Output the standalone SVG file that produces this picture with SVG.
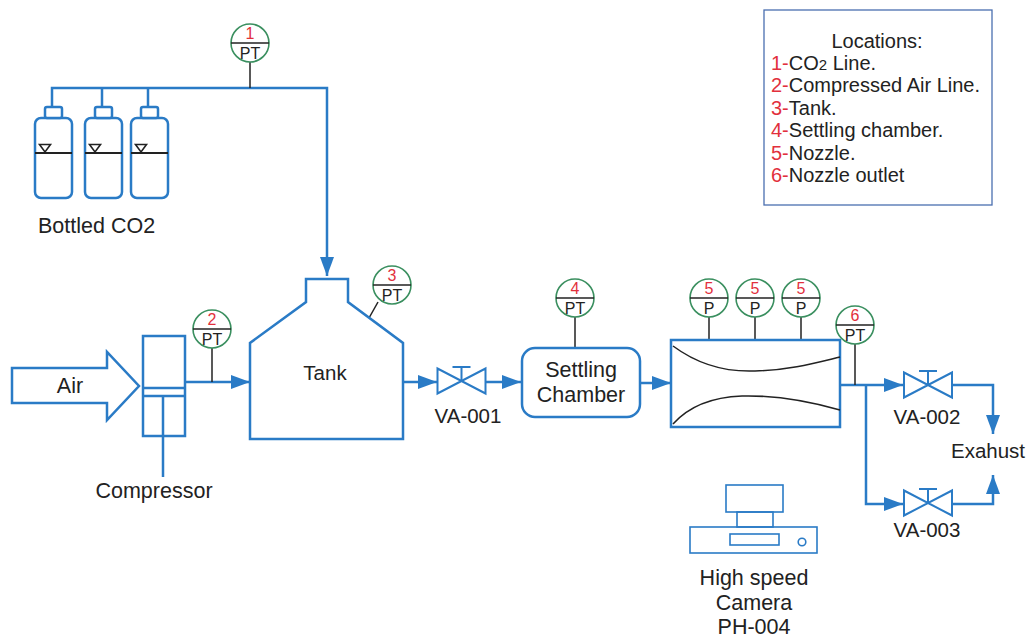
<svg xmlns="http://www.w3.org/2000/svg" width="1029" height="637" viewBox="0 0 1029 637">
  <style>
    text { font-family: "Liberation Sans", Arial, sans-serif; fill: #222; }
    .lbl { font-size: 21.5px; }
    .lbl-s { font-size: 20.5px; }
    .pipe { fill: none; stroke: #2a7bc6; stroke-width: 2.5; }
    .equip { fill: #fff; stroke: #2a7bc6; stroke-width: 2.5; }
    .thin { fill: none; stroke: #2a7bc6; stroke-width: 1.6; }
    .sig { fill: none; stroke: #222; stroke-width: 1.5; }
    .inst circle { fill: #fff; stroke: #3a8f5f; stroke-width: 1.6; }
    .inst line { stroke: #222; stroke-width: 1.5; }
    .inst .num { font-size: 16px; fill: #e2303c; text-anchor: middle; }
    .inst .tag { font-size: 16px; text-anchor: middle; }
    .red { fill: #e2303c; }
    .flow { marker-end: url(#arrow); }
    .legend-text { font-size: 20px; }
  </style>
  <defs>
    <marker id="arrow" markerUnits="userSpaceOnUse" markerWidth="19" markerHeight="14" refX="19" refY="7" orient="auto">
      <path d="M0,0 L19,7 L0,14 Z" fill="#2a7bc6"/>
    </marker>
    <g id="valve">
      <path d="M-24,-12.5 L24,12.5 L24,-12.5 L-24,12.5 Z" fill="#fff" stroke="#2a7bc6" stroke-width="2" stroke-linejoin="miter"/>
      <path d="M0,0 L0,-14 M-9,-14 L9,-14" fill="none" stroke="#2a7bc6" stroke-width="2"/>
    </g>
    <g id="bottle">
      <rect x="0" y="11" width="37" height="80" rx="6" fill="#fff" stroke="#2a7bc6" stroke-width="2.5"/>
      <rect x="10" y="0" width="17" height="11" rx="2" fill="#fff" stroke="#2a7bc6" stroke-width="2.5"/>
      <line x1="0" y1="46" x2="37" y2="46" stroke="#222" stroke-width="1.8"/>
      <path d="M4.5,37.5 L15.5,37.5 L10,45 Z" fill="none" stroke="#222" stroke-width="1.6"/>
    </g>
  </defs>

  <!-- piping and signal lines -->
  <g id="connectors">
    <!-- CO2 header from bottles to tank -->
    <path class="pipe flow" d="M52,107 L52,88 L327,88 L327,276"/>
    <path class="pipe" d="M102,107 L102,88"/>
    <path class="pipe" d="M148,107 L148,88"/>
    <!-- compressor to tank -->
    <path class="pipe flow" d="M185,382 L250,382"/>
    <!-- tank to VA-001 -->
    <path class="pipe flow" d="M403,382 L437,382"/>
    <!-- VA-001 to settling chamber -->
    <path class="pipe flow" d="M486,382 L521,382"/>
    <!-- settling chamber to nozzle -->
    <path class="pipe flow" d="M640,383 L671,383"/>
    <!-- nozzle outlet to VA-002 -->
    <path class="pipe flow" d="M840,385 L903,385"/>
    <!-- branch to VA-003 -->
    <path class="pipe flow" d="M866,385 L866,504 L903,504"/>
    <!-- valves to exhaust -->
    <path class="pipe flow" d="M952,385 L993,385 L993,434"/>
    <path class="pipe flow" d="M952,504 L993,504 L993,475"/>
    <!-- instrument taps -->
    <line class="sig" x1="250" y1="62" x2="250" y2="88"/>
    <line class="sig" x1="212" y1="348" x2="212" y2="382"/>
    <line class="sig" x1="378" y1="302" x2="369" y2="318"/>
    <line class="sig" x1="575" y1="317" x2="575" y2="348"/>
    <line class="sig" x1="709" y1="317" x2="709" y2="367"/>
    <line class="sig" x1="755" y1="317" x2="755" y2="371"/>
    <line class="sig" x1="801" y1="317" x2="801" y2="366"/>
    <line class="sig" x1="855" y1="344" x2="855" y2="385"/>
  </g>

  <!-- CO2 bottles -->
  <g id="bottled-co2">
    <use href="#bottle" x="35" y="107"/>
    <use href="#bottle" x="85" y="107"/>
    <use href="#bottle" x="131" y="107"/>
    <text class="lbl" x="38" y="233">Bottled CO2</text>
  </g>

  <!-- air inlet -->
  <g id="air">
    <polygon class="equip" points="12,368 107,368 107,352 139,386 107,420 107,403 12,403"/>
    <text class="lbl" x="70" y="393" text-anchor="middle">Air</text>
  </g>

  <!-- compressor -->
  <g id="compressor">
    <rect class="equip" x="143" y="336" width="42" height="100"/>
    <path class="pipe" d="M143,388 L185,388 M143,396 L185,396 M163,396 L163,477"/>
    <text class="lbl" x="154" y="498" text-anchor="middle">Compressor</text>
  </g>

  <!-- tank -->
  <g id="tank">
    <path class="equip" d="M306,302 L306,279 L348,279 L348,302 L403,343 L403,439 L250,439 L250,343 Z"/>
    <text class="lbl-s" x="325" y="380" text-anchor="middle">Tank</text>
  </g>

  <!-- valves -->
  <g id="va-001">
    <use href="#valve" x="461.5" y="381"/>
    <text class="lbl-s" x="468" y="423" text-anchor="middle">VA-001</text>
  </g>
  <g id="va-002">
    <use href="#valve" x="928" y="385"/>
    <text class="lbl-s" x="927" y="424" text-anchor="middle">VA-002</text>
  </g>
  <g id="va-003">
    <use href="#valve" x="928" y="503"/>
    <text class="lbl-s" x="927" y="537" text-anchor="middle">VA-003</text>
  </g>

  <!-- settling chamber -->
  <g id="settling-chamber">
    <rect class="equip" x="522" y="348" width="118" height="69" rx="13"/>
    <text class="lbl" x="581" y="377" text-anchor="middle">Settling</text>
    <text class="lbl" x="581" y="402" text-anchor="middle">Chamber</text>
  </g>

  <!-- nozzle -->
  <g id="nozzle">
    <rect class="equip" x="671" y="340" width="169" height="87"/>
    <path class="sig" d="M673,346 C700,366 730,372 755,371 C790,370 815,363 840,357"/>
    <path class="sig" d="M673,424 C690,405 715,397 742,396 C780,395 812,402 840,410"/>
  </g>

  <!-- exhaust -->
  <g id="exhaust">
    <text class="lbl-s" x="988" y="458" text-anchor="middle">Exahust</text>
  </g>

  <!-- high speed camera -->
  <g id="camera">
    <rect class="thin" x="726" y="485" width="57" height="27"/>
    <rect class="thin" x="737" y="512" width="36" height="15"/>
    <rect class="thin" x="690" y="527" width="127" height="26"/>
    <rect class="thin" x="730" y="534" width="49" height="11"/>
    <circle class="thin" cx="802" cy="542" r="3.8"/>
    <text class="lbl" x="754" y="585" text-anchor="middle">High speed</text>
    <text class="lbl" x="754" y="610" text-anchor="middle">Camera</text>
    <text class="lbl" x="754" y="634" text-anchor="middle">PH-004</text>
  </g>

  <!-- instruments -->
  <g id="pt-1" class="inst">
    <circle cx="250" cy="43" r="19"/>
    <line x1="231" y1="43" x2="269" y2="43"/>
    <text class="num" x="250" y="39">1</text>
    <text class="tag" x="250" y="59">PT</text>
  </g>
  <g id="pt-2" class="inst">
    <circle cx="212" cy="329" r="19"/>
    <line x1="193" y1="329" x2="231" y2="329"/>
    <text class="num" x="212" y="325">2</text>
    <text class="tag" x="212" y="345">PT</text>
  </g>
  <g id="pt-3" class="inst">
    <circle cx="392" cy="285" r="19"/>
    <line x1="373" y1="285" x2="411" y2="285"/>
    <text class="num" x="392" y="281">3</text>
    <text class="tag" x="392" y="301">PT</text>
  </g>
  <g id="pt-4" class="inst">
    <circle cx="575" cy="298" r="19"/>
    <line x1="556" y1="298" x2="594" y2="298"/>
    <text class="num" x="575" y="294">4</text>
    <text class="tag" x="575" y="314">PT</text>
  </g>
  <g id="p-5a" class="inst">
    <circle cx="709" cy="298" r="19"/>
    <line x1="690" y1="298" x2="728" y2="298"/>
    <text class="num" x="709" y="294">5</text>
    <text class="tag" x="709" y="314">P</text>
  </g>
  <g id="p-5b" class="inst">
    <circle cx="755" cy="298" r="19"/>
    <line x1="736" y1="298" x2="774" y2="298"/>
    <text class="num" x="755" y="294">5</text>
    <text class="tag" x="755" y="314">P</text>
  </g>
  <g id="p-5c" class="inst">
    <circle cx="801" cy="298" r="19"/>
    <line x1="782" y1="298" x2="820" y2="298"/>
    <text class="num" x="801" y="294">5</text>
    <text class="tag" x="801" y="314">P</text>
  </g>
  <g id="pt-6" class="inst">
    <circle cx="855" cy="325" r="19"/>
    <line x1="836" y1="325" x2="874" y2="325"/>
    <text class="num" x="855" y="321">6</text>
    <text class="tag" x="855" y="341">PT</text>
  </g>

  <!-- legend -->
  <g id="legend">
    <rect x="764" y="10" width="228" height="195" fill="#fff" stroke="#4a6fb0" stroke-width="1.3"/>
    <text class="legend-text" x="877" y="48" text-anchor="middle">Locations:</text>
    <text class="legend-text" x="771" y="70"><tspan class="red">1-</tspan>CO<tspan font-size="15">2</tspan> Line.</text>
    <text class="legend-text" x="771" y="92"><tspan class="red">2-</tspan>Compressed Air Line.</text>
    <text class="legend-text" x="771" y="115"><tspan class="red">3-</tspan>Tank.</text>
    <text class="legend-text" x="771" y="137"><tspan class="red">4-</tspan>Settling chamber.</text>
    <text class="legend-text" x="771" y="160"><tspan class="red">5-</tspan>Nozzle.</text>
    <text class="legend-text" x="771" y="182"><tspan class="red">6-</tspan>Nozzle outlet</text>
  </g>
</svg>
